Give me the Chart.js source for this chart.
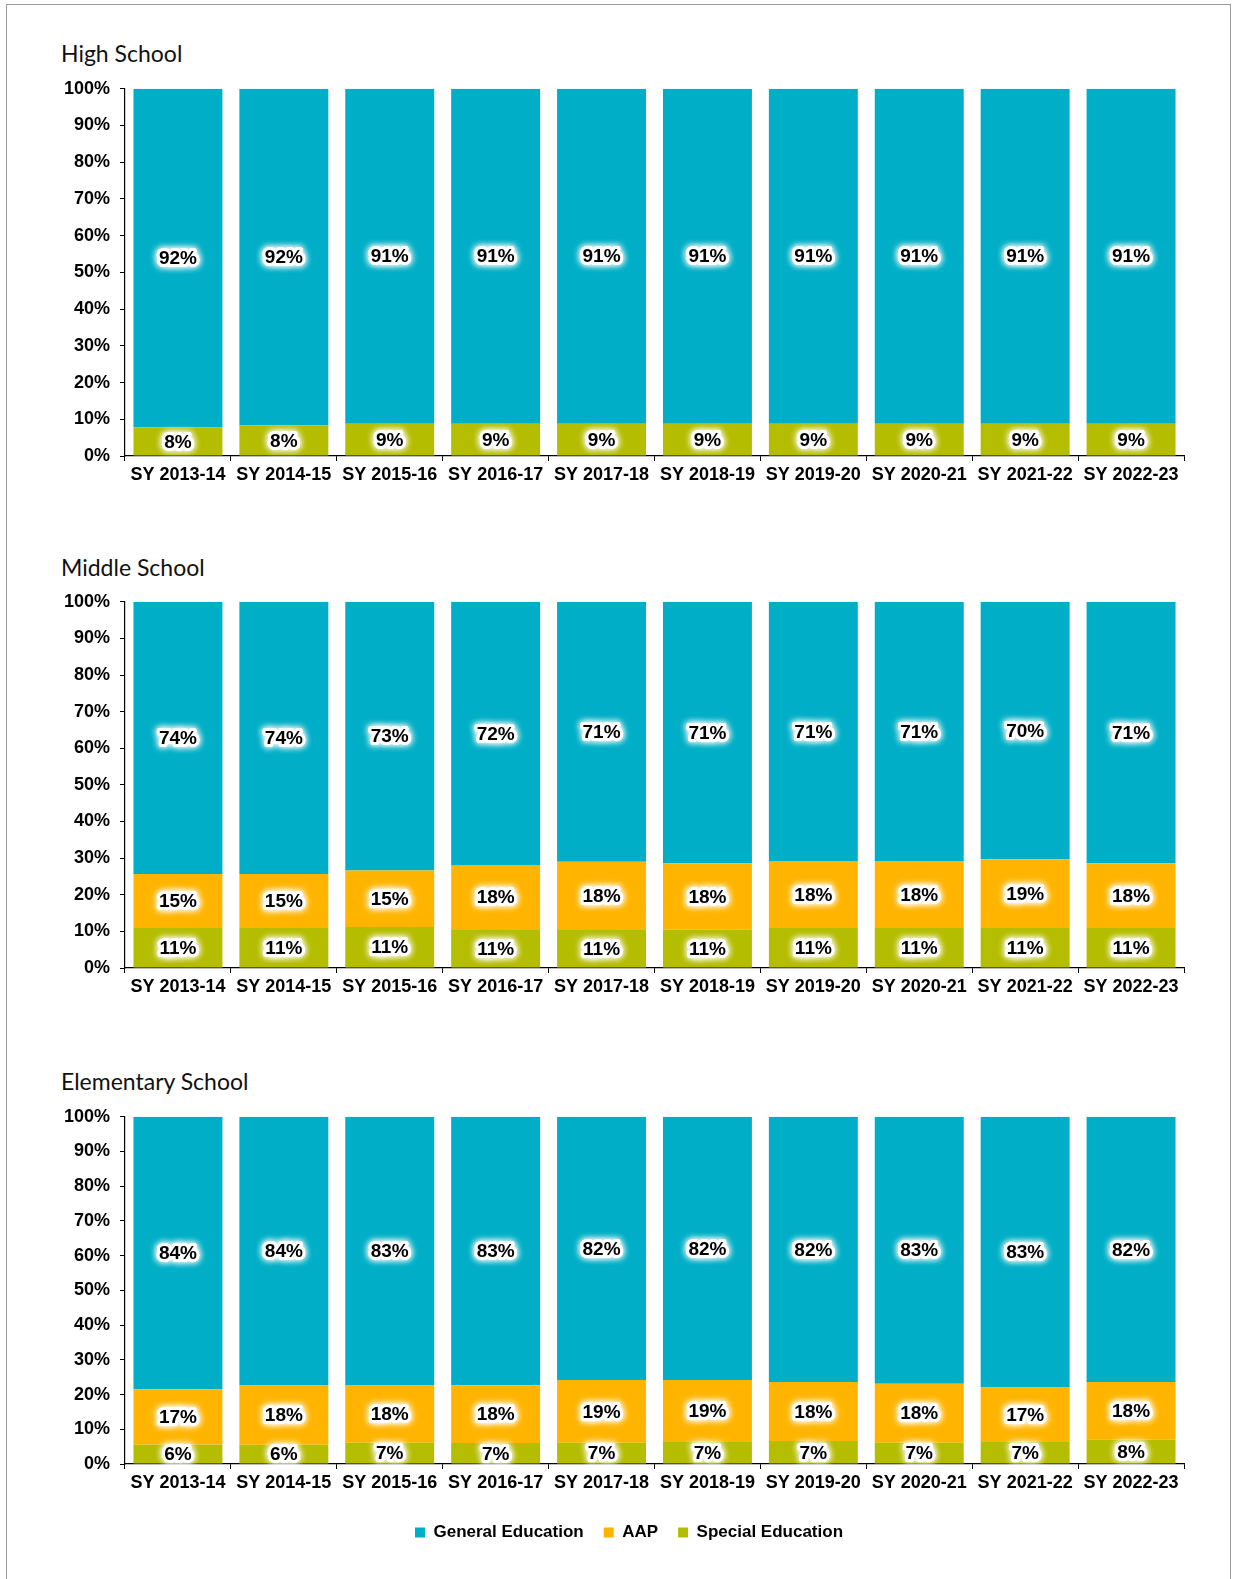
<!DOCTYPE html>
<html>
<head>
<meta charset="utf-8">
<script src="https://cdn.jsdelivr.net/npm/chart.js@4.4.1/dist/chart.umd.min.js"></script>
<style>
  html, body { margin: 0; padding: 0; background: #fff; overflow: hidden; }
  body { width: 1233px; height: 1579px; position: relative; }
  .frame { position: absolute; left: 6px; top: 4px; width: 1225px; height: 1620px; border: 1.5px solid #9a9a9a; box-sizing: border-box; }
  .title { position: absolute; left: 61px; font-family: Lato, 'Open Sans', sans-serif; font-size: 23px; line-height: 23px; color: #111; }
  canvas { position: absolute; left: 0; }
</style>
</head>
<body>
<div class="frame"></div>
<div class="title" style="top:42px">High School</div>
<div class="title" style="top:556px">Middle School</div>
<div class="title" style="top:1070px">Elementary School</div>
<canvas id="high-chart" width="1233" height="428" style="top:68px"></canvas>
<canvas id="middle-chart" width="1233" height="427" style="top:581px"></canvas>
<canvas id="elem-chart" width="1233" height="455" style="top:1096px"></canvas>
<script>
const years = ['SY 2013-14', 'SY 2014-15', 'SY 2015-16', 'SY 2016-17', 'SY 2017-18',
  'SY 2018-19', 'SY 2019-20', 'SY 2020-21', 'SY 2021-22', 'SY 2022-23'];
const yTicks = [0, 10, 20, 30, 40, 50, 60, 70, 80, 90, 100];

// raw percentages as labelled (Excel 100% stacked normalises the bars)
const highSpecial = [7.8, 8.3, 8.8, 8.8, 8.8, 8.8, 8.8, 8.8, 8.8, 8.8];
const highAAP = [0, 0, 0, 0, 0, 0, 0, 0, 0, 0];
const highGeneral = [92.2, 91.7, 91.2, 91.2, 91.2, 91.2, 91.2, 91.2, 91.2, 91.2];

const middleSpecial = [10.9, 10.9, 11.2, 10.6, 10.6, 10.5, 10.9, 10.9, 10.9, 10.9];
const middleAAP = [14.8, 14.8, 15.4, 17.5, 18.4, 18.1, 18.3, 18.3, 18.8, 17.7];
const middleGeneral = [74.3, 74.3, 73.4, 71.9, 71.0, 71.4, 70.8, 70.8, 70.3, 71.4];

const elemSpecial = [6.0, 6.0, 6.6, 6.5, 6.6, 7.1, 7.1, 6.6, 7.0, 7.6];
const elemAAP = [17.0, 18.4, 17.8, 17.9, 19.4, 19.0, 18.3, 18.4, 16.6, 17.8];
const elemGeneral = [84.0, 83.6, 83.4, 83.3, 81.6, 81.7, 82.1, 83.1, 83.4, 82.2];

const FONT = '"Liberation Sans", Arial, sans-serif';
const COLORS = { special: '#b5bd00', aap: '#ffb500', general: '#00afc7' };

function normalize(series, i) {
  const total = series.reduce((s, arr) => s + arr[i], 0);
  return series.map(arr => arr[i] / total * 100);
}

const glowLabels = {
  id: 'glowLabels',
  afterDatasetsDraw(chart) {
    const ctx = chart.ctx;
    ctx.save();
    ctx.font = 'bold 19px ' + FONT;
    ctx.textAlign = 'center';
    ctx.textBaseline = 'middle';
    chart.data.datasets.forEach((ds, di) => {
      const meta = chart.getDatasetMeta(di);
      meta.data.forEach((bar, i) => {
        const v = ds.rawValues[i];
        if (!v) return;
        const t = Math.round(v) + '%';
        const y = (bar.y + bar.base) / 2 + 1;
        ctx.shadowColor = '#fff';
        ctx.shadowBlur = 7;
        ctx.strokeStyle = '#fff';
        ctx.lineWidth = 6;
        ctx.lineJoin = 'round';
        ctx.strokeText(t, bar.x, y);
        ctx.strokeText(t, bar.x, y);
        ctx.shadowBlur = 0;
        ctx.fillStyle = '#000';
        ctx.fillText(t, bar.x, y);
      });
    });
    ctx.restore();
  }
};

function renderSchoolChart(id, special, aap, general, showLegend) {
  const series = [special, aap, general];
  const pct = years.map((_, i) => normalize(series, i));
  const make = (label, raw, k, color) => ({
    label,
    data: pct.map(p => p[k]),
    rawValues: raw,
    backgroundColor: color,
    borderWidth: 0,
    barPercentage: 0.84,
    categoryPercentage: 1,
  });
  new Chart(document.getElementById(id), {
    type: 'bar',
    data: {
      labels: years,
      datasets: [
        make('Special Education', special, 0, COLORS.special),
        make('AAP', aap, 1, COLORS.aap),
        make('General Education', general, 2, COLORS.general),
      ],
    },
    options: {
      responsive: false,
      animation: false,
      layout: { padding: { left: 74, right: 49, top: 15, bottom: 0 } },
      plugins: {
        tooltip: { enabled: false },
        legend: {
          display: showLegend,
          position: 'bottom',
          reverse: true,
          labels: {
            boxWidth: 10,
            boxHeight: 10,
            padding: 20,
            color: '#000',
            font: { family: FONT, size: 17, weight: 'bold' },
          },
        },
      },
      scales: {
        x: {
          stacked: true,
          afterFit: s => { s.height = 40; },
          grid: { drawOnChartArea: false, drawTicks: true, tickLength: 5, color: '#000', offset: true },
          border: { display: true, color: '#000', width: 1.2 },
          ticks: {
            color: '#000', padding: 3, maxRotation: 0, autoSkip: false,
            font: { family: FONT, size: 18, weight: 'bold' },
          },
        },
        y: {
          stacked: true,
          min: 0,
          max: 100,
          afterFit: s => {
            s.width = 51;
            // labels stick out left of the narrow box; don't clip them
            s._computeLabelArea = () => undefined;
          },
          afterBuildTicks: s => { s.ticks = yTicks.map(v => ({ value: v })); },
          grid: { drawOnChartArea: false, drawTicks: true, tickLength: 5, color: '#000' },
          border: { display: true, color: '#000', width: 1.2 },
          ticks: {
            color: '#000', padding: 10,
            font: { family: FONT, size: 18, weight: 'bold' },
            callback: v => v + '%',
          },
        },
      },
    },
    plugins: [glowLabels],
  });
}

renderSchoolChart('high-chart', highSpecial, highAAP, highGeneral, false);
renderSchoolChart('middle-chart', middleSpecial, middleAAP, middleGeneral, false);
renderSchoolChart('elem-chart', elemSpecial, elemAAP, elemGeneral, true);
</script>
</body>
</html>
